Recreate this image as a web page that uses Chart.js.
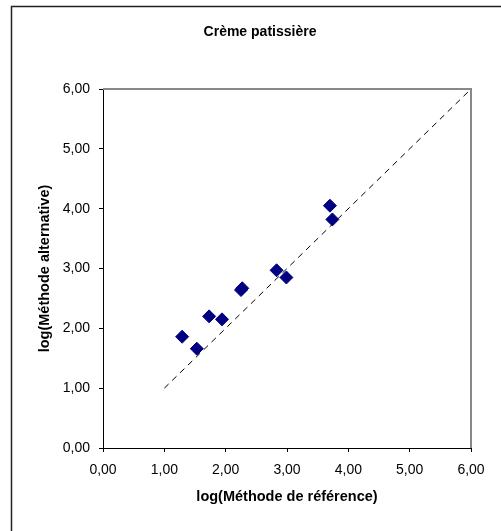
<!DOCTYPE html>
<html>
<head>
<meta charset="utf-8">
<script src="https://cdn.jsdelivr.net/npm/chart.js@4/dist/chart.umd.min.js"></script>
<style>
  html, body { margin: 0; padding: 0; background: #fff; }
  #wrap { width: 501px; height: 531px; }
</style>
</head>
<body>
<div id="wrap"><canvas id="chart" width="501" height="531"></canvas></div>
<script>
// data
const chartTitle = 'Crème patissière';
const xTitle = 'log(Méthode de référence)';
const yTitle = 'log(Méthode alternative)';
const refValues = [1.29, 1.53, 1.73, 1.94, 2.25, 2.27, 2.83, 2.99, 3.70, 3.74];
const altValues = [1.86, 1.66, 2.20, 2.15, 2.64, 2.67, 2.97, 2.85, 4.05, 3.82];
const identityEnds = [1, 6];
const axisMin = 0;
const axisMax = 6;

const FONT = "'Liberation Sans', Arial, sans-serif";
const fmt = v => Number(v).toFixed(2).replace('.', ',');

/* frame, outer border and title drawn around the plot */
const framePlugin = {
  id: 'frame',
  beforeDraw(chart) {
    const { ctx } = chart;
    ctx.save();
    ctx.strokeStyle = '#222';
    ctx.lineWidth = 1.5;
    ctx.beginPath();
    ctx.moveTo(11.5, 531);
    ctx.lineTo(11.5, 6.5);
    ctx.lineTo(501, 6.5);
    ctx.stroke();
    ctx.fillStyle = '#000';
    ctx.font = 'bold 14px ' + FONT;
    ctx.textAlign = 'center';
    ctx.textBaseline = 'middle';
    ctx.fillText(chartTitle, 260, 32);
    ctx.restore();
  },
  beforeDatasetsDraw(chart) {
    const { ctx, chartArea: a } = chart;
    ctx.save();
    ctx.strokeStyle = '#888';
    ctx.lineWidth = 2;
    ctx.beginPath();
    ctx.moveTo(a.left, a.top);
    ctx.lineTo(a.right, a.top);
    ctx.lineTo(a.right, a.bottom);
    ctx.stroke();
    ctx.restore();
  }
};

const axisCommon = {
  type: 'linear',
  min: axisMin,
  max: axisMax,
  ticks: { stepSize: 1, color: '#000', font: { family: FONT, size: 14 }, callback: fmt },
  grid: { drawOnChartArea: false, drawTicks: true, tickLength: 4, color: '#000', lineWidth: 1 },
  border: { display: true, color: '#000', width: 1 }
};

new Chart(document.getElementById('chart'), {
  type: 'scatter',
  data: {
    datasets: [{
      label: 'points',
      data: refValues.map((x, i) => ({ x, y: altValues[i] })),
      pointStyle: 'rectRot',
      pointRadius: 6.5,
      pointBorderWidth: 1,
      backgroundColor: '#000080',
      borderColor: '#000080'
    }, {
      type: 'line',
      label: 'y = x',
      data: identityEnds.map(v => ({ x: v, y: v })),
      borderColor: '#000',
      borderWidth: 1,
      borderDash: [6, 5],
      pointRadius: 0,
      fill: false,
      clip: false
    }]
  },
  options: {
    responsive: false,
    animation: false,
    layout: { padding: { top: 89, left: 0, right: 30, bottom: 0 } },
    plugins: { legend: { display: false }, title: { display: false }, tooltip: { enabled: false } },
    scales: {
      x: {
        ...axisCommon,
        ticks: { ...axisCommon.ticks, padding: 10, maxRotation: 0 },
        title: { display: true, text: xTitle, color: '#000', font: { family: FONT, size: 14.5, weight: 'bold' }, padding: { top: 0, bottom: 25.6 } },
        afterFit: s => { s.height = 83; }
      },
      y: {
        ...axisCommon,
        ticks: { ...axisCommon.ticks, padding: 9 },
        title: { display: true, text: yTitle, color: '#000', font: { family: FONT, size: 14.5, weight: 'bold' }, padding: { top: 36.3, bottom: 0 } },
        afterFit: s => { s.width = 103; }
      }
    }
  },
  plugins: [framePlugin]
});
</script>
</body>
</html>
